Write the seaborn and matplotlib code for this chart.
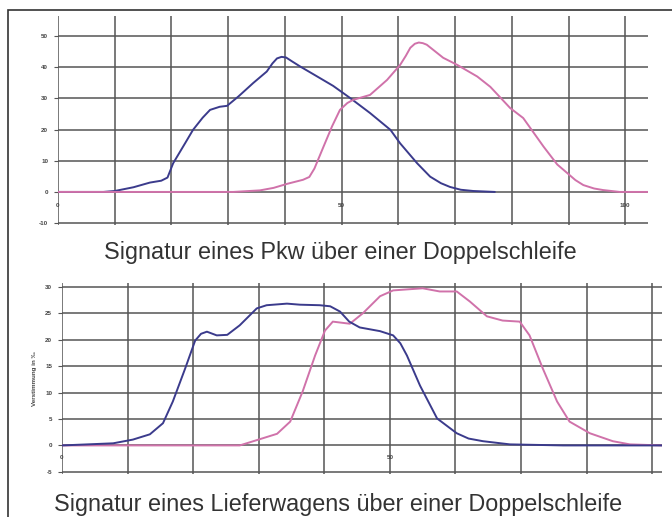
import pandas as pd
import matplotlib.pyplot as plt
import seaborn as sns
from matplotlib.patches import Rectangle

# Pkw - Schleife 1 (blau) und Schleife 2 (rosa)
pkw_x1 = [0, 8, 10, 13.3, 16.2, 18.2, 19.3, 20.3, 22.4, 23.8, 25.5, 26.8, 28.5, 29.8, 31.8, 34.4,
          36.8, 37.8, 38.6, 39.4, 40.2, 41.3, 42.7, 45.7, 48.5, 51.5, 55, 58.6, 60.3, 63.3,
          65.6, 67.5, 69.1, 71, 73.2, 77]
pkw_y1 = [0, 0, 0.3, 1.5, 3, 3.6, 4.6, 9.2, 15.6, 19.9, 23.8, 26.3, 27.3, 27.6, 30.6, 34.9,
          38.6, 41.2, 42.8, 43.3, 43.1, 41.8, 40.2, 37, 34, 30.1, 25.3, 19.9, 15.6, 9.2,
          4.9, 2.8, 1.6, 0.7, 0.3, 0]
pkw_x2 = [0, 30.9, 35.6, 38, 40.4, 43.2, 44.3, 45.2, 46.8, 48.3, 49.7, 51, 52, 55, 58, 60.3,
          61.3, 62.1, 62.9, 63.6, 64.3, 65, 67.9, 70.4, 73.9, 76.2, 79.7, 82, 85.6, 88,
          89.8, 91.2, 92.6, 94.5, 96.1, 99, 104]
pkw_y2 = [0, 0, 0.5, 1.3, 2.6, 3.9, 4.8, 7.5, 14.5, 21, 26.3, 28.5, 29.5, 31.1, 35.9, 40.7,
          43.6, 46.2, 47.5, 47.9, 47.7, 47.2, 43, 40.7, 37, 33.7, 26.9, 23.7, 14.5, 8.8,
          6, 3.8, 2.2, 1.1, 0.6, 0, 0]

# Lieferwagen - Schleife 1 (blau) und Schleife 2 (rosa)
lkw_x1 = [0, 7.8, 10.8, 13.4, 15.4, 16.9, 18.8, 20.3, 21.2, 22.1, 23.6, 25.2, 27.1, 29.7, 31.2,
          34.3, 36.3, 39.3, 40.9, 42.4, 43.8, 45.4, 48.5, 50.5, 51.6, 52.6, 54.6, 57.2, 60.2,
          62, 64.2, 68.3, 76.4, 91.5]
lkw_y1 = [0, 0.4, 1.1, 2.1, 4.2, 8.3, 14.6, 19.8, 21.1, 21.5, 20.8, 20.9, 22.7, 25.9, 26.5,
          26.8, 26.6, 26.5, 26.3, 25.3, 23.4, 22.3, 21.6, 20.8, 19.3, 17, 11.3, 5.1, 2.3,
          1.3, 0.8, 0.2, 0, 0]
lkw_x2 = [0, 27.1, 29.7, 32.8, 34.8, 36.7, 38.6, 40.1, 41.3, 43.9, 45.9, 48.5, 50.5, 55, 57.6,
          60.2, 62.2, 64.8, 67.2, 69.8, 71.3, 73.3, 75.5, 77.4, 80.5, 84, 86.6, 91.5]
lkw_y2 = [0, 0, 1, 2.2, 4.5, 10.2, 17, 21.7, 23.4, 23, 25, 28.2, 29.3, 29.7, 29.1,
          29.1, 27.2, 24.4, 23.6, 23.4, 20.8, 14.6, 8.3, 4.5, 2.3, 0.8, 0.2, 0]

top_xlabels = {0: '0', 50: '50', 100: '100'}
bot_xlabels = {0: '0', 50: '50'}

BLUE = '#3b3b8c'
PINK = '#d072aa'
GRID = '#555555'
TICK = '#444444'

sns.set_theme(style='white')
plt.rcParams['font.family'] = ['Liberation Sans', 'DejaVu Sans']

fig = plt.figure(figsize=(6.72, 5.17), dpi=100)
ax1 = fig.add_axes([58 / 672, 1 - 225 / 517, 590 / 672, 209 / 517])
ax2 = fig.add_axes([62 / 672, 1 - 474 / 517, 600 / 672, 191 / 517])


def style_axis(ax, xticks, xlabels, yticks, xpad):
    ax.set_xticks(xticks)
    ax.set_xticklabels([xlabels.get(t, '') for t in xticks])
    ax.set_yticks(yticks)
    ax.set_yticklabels([str(t) for t in yticks])
    ax.grid(True, color=GRID, linewidth=1.1)
    ax.set_axisbelow(True)
    for s in ax.spines.values():
        s.set_visible(False)
    ax.spines['bottom'].set_position(('data', 0))
    ax.tick_params(axis='x', length=0, pad=xpad, labelsize=4.5, labelcolor=TICK)
    ax.tick_params(axis='y', left=True, length=3, width=0.8, color=GRID, pad=4,
                   labelsize=4.5, labelcolor=TICK)
    for lab in ax.get_xticklabels() + ax.get_yticklabels():
        lab.set_fontweight('bold')
    ax.set_xlabel('')
    ax.set_ylabel('')
    ax.set_facecolor('white')


# oberes Diagramm: Pkw
sns.lineplot(x=pkw_x1, y=pkw_y1, ax=ax1, color=BLUE, linewidth=1.4)
sns.lineplot(x=pkw_x2, y=pkw_y2, ax=ax1, color=PINK, linewidth=1.4)
ax1.set_xlim(0, 104)
ax1.set_ylim(-10.6, 56.4)
style_axis(ax1, list(range(0, 101, 10)), top_xlabels, list(range(-10, 51, 10)), 8)

# unteres Diagramm: Lieferwagen
sns.lineplot(x=lkw_x2, y=lkw_y2, ax=ax2, color=PINK, linewidth=1.4)
sns.lineplot(x=lkw_x1, y=lkw_y1, ax=ax2, color=BLUE, linewidth=1.4)
ax2.set_xlim(0, 91.5)
ax2.set_ylim(-5.4, 30.7)
style_axis(ax2, list(range(0, 91, 10)), bot_xlabels, list(range(-5, 31, 5)), 7)
ax2.set_ylabel('Verstimmung in ‰', fontsize=4.5, fontweight='bold', color=TICK, labelpad=6)

fig.text(340 / 672, 1 - 253 / 517, 'Signatur eines Pkw über einer Doppelschleife',
         ha='center', va='center', fontsize=16.8, color='#333333')
fig.text(338 / 672, 1 - 504 / 517, 'Signatur eines Lieferwagens über einer Doppelschleife',
         ha='center', va='center', fontsize=16.8, color='#333333')

# Rahmen
fig.patches.append(Rectangle((8 / 672, -0.05), 1.0, 1 - 10 / 517 + 0.05, transform=fig.transFigure,
                             fill=False, edgecolor='#333333', linewidth=1.2, clip_on=False))

fig.savefig('out.png', dpi=100)
